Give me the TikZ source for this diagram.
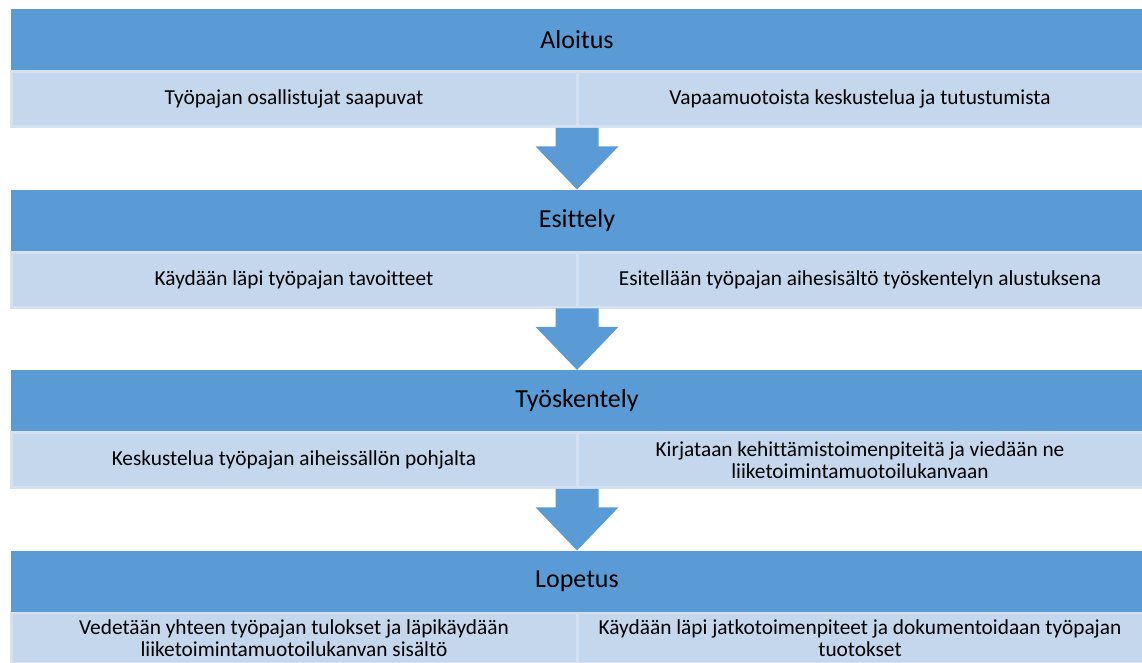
\documentclass[tikz,border=0pt]{standalone}
\usepackage{fontspec}
\setmainfont{Carlito}[Ligatures=NoCommon]
\usetikzlibrary{calc}

\definecolor{headblue}{RGB}{91,155,213}
\definecolor{cellblue}{RGB}{197,215,236}
\definecolor{celledge}{RGB}{213,225,241}

\begin{document}
\begin{tikzpicture}[x=0.75pt,y=0.75pt,yscale=-1,xscale=1,
  stagebar/.style={fill=headblue, draw=none, inner sep=0pt, outer sep=0pt, anchor=north west,
    minimum width=849pt, minimum height=46pt, font=\fontsize{19.5}{23}\selectfont},
  stepcell/.style={fill=cellblue, draw=celledge, line width=2.25pt, inner sep=0pt, outer sep=0pt, anchor=north west,
    minimum width=424.5pt, minimum height=41.5pt, align=center, font=\fontsize{16}{17.2}\selectfont},
  flowarrow/.style={fill=headblue, draw=none}]
\useasboundingbox (0,0) rectangle (1142,662);

%Aloitus
\node [stepcell] (aloL) at (11,71.5) {Työpajan osallistujat saapuvat};
\node [stepcell] (aloR) at (577,71.5) {Vapaamuotoista keskustelua ja tutustumista};
\node [stagebar] (alo) at (11,9) {Aloitus};

%Esittely
\node [stepcell] (esiL) at (11,252) {Käydään läpi työpajan tavoitteet};
\node [stepcell] (esiR) at (577,252) {Esitellään työpajan aihesisältö työskentelyn alustuksena};
\node [stagebar] (esi) at (11,189.5) {Esittely};

%Työskentely
\node [stepcell] (tyoL) at (11,432.5) {Keskustelua työpajan aiheissällön pohjalta};
\node [stepcell] (tyoR) at (577,432.5) {Kirjataan kehittämistoimenpiteitä ja viedään ne\\liiketoimintamuotoilukanvaan};
\node [stagebar] (tyo) at (11,370) {Työskentely};

%Lopetus
\node [stepcell, minimum height=38.5pt] (lopL) at (11,612.5) {Vedetään yhteen työpajan tulokset ja läpikäydään\\liiketoimintamuotoilukanvan sisältö};
\node [stepcell, minimum height=38.5pt] (lopR) at (577,612.5) {Käydään läpi jatkotoimenpiteet ja dokumentoidaan työpajan\\tuotokset};
\node [stagebar] (lop) at (11,550.5) {Lopetus};

%Block arrows
\fill [flowarrow] ($(aloL.south east)+(-21.5,1)$) -- ++(43,0) -- ++(0,18.5) -- ++(20,0) -- (aloL.south east |- esi.north) -- ($(aloL.south east)+(-41.5,19.5)$) -- ++(20,0) -- cycle;
\fill [flowarrow] ($(esiL.south east)+(-21.5,1)$) -- ++(43,0) -- ++(0,18.5) -- ++(20,0) -- (esiL.south east |- tyo.north) -- ($(esiL.south east)+(-41.5,19.5)$) -- ++(20,0) -- cycle;
\fill [flowarrow] ($(tyoL.south east)+(-21.5,1)$) -- ++(43,0) -- ++(0,18.5) -- ++(20,0) -- (tyoL.south east |- lop.north) -- ($(tyoL.south east)+(-41.5,19.5)$) -- ++(20,0) -- cycle;

\end{tikzpicture}
\end{document}
